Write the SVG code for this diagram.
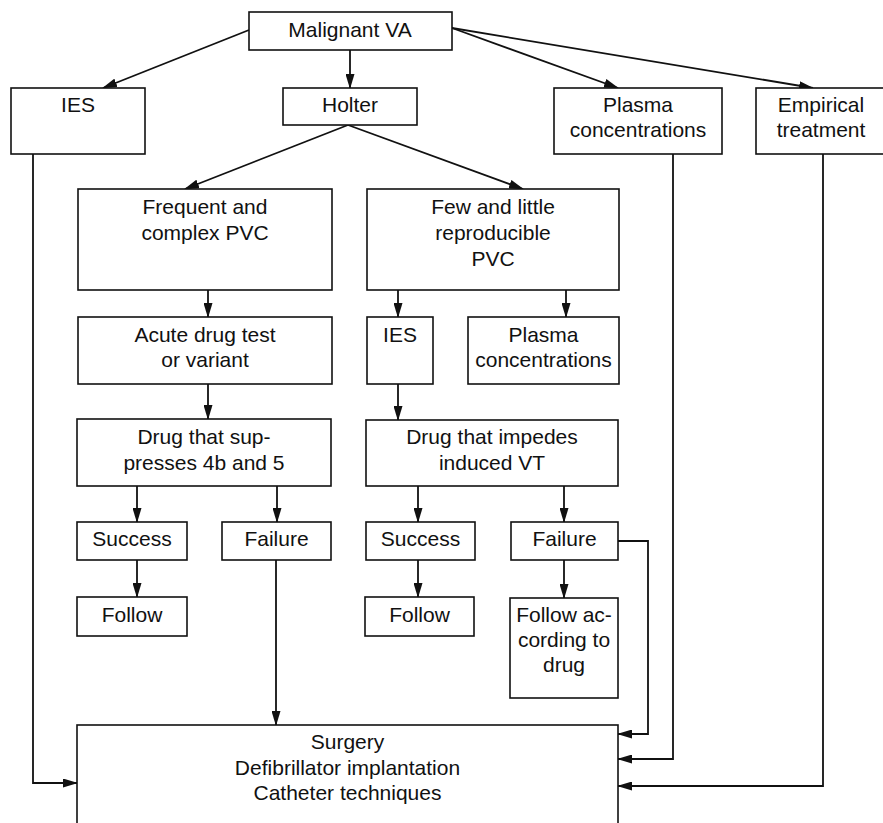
<svg xmlns="http://www.w3.org/2000/svg" width="883" height="823" viewBox="0 0 883 823">
<style>
rect{fill:#fff;stroke:#111;stroke-width:1.6}
text{font-family:"Liberation Sans",Arial,sans-serif;font-size:21px;fill:#111;text-anchor:middle}
.c{fill:none;stroke:#111;stroke-width:1.8}
</style>
<defs>
<marker id="a" markerUnits="userSpaceOnUse" markerWidth="15" markerHeight="9" refX="14" refY="4.5" orient="auto">
<path d="M0,0 L15,4.5 L0,9 z" fill="#111"/>
</marker>
</defs>
<rect x="0" y="0" width="883" height="823" style="stroke:none"/>
<g id="connectors">
<path class="c" d="M249,30 L103,88" marker-end="url(#a)"/>
<path class="c" d="M350,50 L350,88" marker-end="url(#a)"/>
<path class="c" d="M452,28 L618,88" marker-end="url(#a)"/>
<path class="c" d="M452,28 L813,88" marker-end="url(#a)"/>
<path class="c" d="M348,125 L185,189" marker-end="url(#a)"/>
<path class="c" d="M348,125 L523,189" marker-end="url(#a)"/>
<path class="c" d="M208,290 L208,317" marker-end="url(#a)"/>
<path class="c" d="M208,384 L208,419" marker-end="url(#a)"/>
<path class="c" d="M398,290 L398,317" marker-end="url(#a)"/>
<path class="c" d="M566,290 L566,317" marker-end="url(#a)"/>
<path class="c" d="M398,384 L398,420" marker-end="url(#a)"/>
<path class="c" d="M137,486 L137,522" marker-end="url(#a)"/>
<path class="c" d="M277,486 L277,522" marker-end="url(#a)"/>
<path class="c" d="M137,560 L137,597" marker-end="url(#a)"/>
<path class="c" d="M418,486 L418,522" marker-end="url(#a)"/>
<path class="c" d="M564,486 L564,522" marker-end="url(#a)"/>
<path class="c" d="M418,560 L418,597" marker-end="url(#a)"/>
<path class="c" d="M564,560 L564,598" marker-end="url(#a)"/>
<path class="c" d="M276,560 L276,725" marker-end="url(#a)"/>
<path class="c" d="M33,154 L33,783 L77,783" marker-end="url(#a)"/>
<path class="c" d="M618,541 L648,541 L648,734 L618,734" marker-end="url(#a)"/>
<path class="c" d="M673,154 L673,759 L618,759" marker-end="url(#a)"/>
<path class="c" d="M823,154 L823,786 L618,786" marker-end="url(#a)"/>
</g>
<g id="malignant"><rect x="249" y="12" width="203" height="38"/><text x="350" y="37">Malignant VA</text></g>
<g id="ies"><rect x="11" y="88" width="134" height="66"/><text x="78" y="112">IES</text></g>
<g id="holter"><rect x="283" y="88" width="134" height="37"/><text x="350" y="112">Holter</text></g>
<g id="plasma"><rect x="554" y="88" width="168" height="66"/><text x="638" y="112">Plasma</text><text x="638" y="137">concentrations</text></g>
<g id="empirical"><rect x="756" y="88" width="134" height="66"/><text x="821" y="112">Empirical</text><text x="821" y="137">treatment</text></g>
<g id="frequent"><rect x="78" y="189" width="254" height="101"/><text x="205" y="214">Frequent and</text><text x="205" y="240">complex PVC</text></g>
<g id="few"><rect x="367" y="189" width="252" height="101"/><text x="493" y="214">Few and little</text><text x="493" y="240">reproducible</text><text x="493" y="266">PVC</text></g>
<g id="acute"><rect x="78" y="317" width="254" height="67"/><text x="205" y="342">Acute drug test</text><text x="205" y="367">or variant</text></g>
<g id="ies2"><rect x="367" y="317" width="66" height="67"/><text x="400" y="342">IES</text></g>
<g id="plasma2"><rect x="468" y="317" width="151" height="67"/><text x="543.5" y="342">Plasma</text><text x="543.5" y="367">concentrations</text></g>
<g id="drug1"><rect x="77" y="419" width="254" height="67"/><text x="204" y="444">Drug that sup-</text><text x="204" y="470">presses 4b and 5</text></g>
<g id="drug2"><rect x="366" y="420" width="252" height="66"/><text x="492" y="444">Drug that impedes</text><text x="492" y="470">induced VT</text></g>
<g id="success1"><rect x="77" y="522" width="110" height="38"/><text x="132" y="546">Success</text></g>
<g id="failure1"><rect x="222" y="522" width="109" height="38"/><text x="276.5" y="546">Failure</text></g>
<g id="follow1"><rect x="77" y="597" width="110" height="39"/><text x="132" y="622">Follow</text></g>
<g id="success2"><rect x="366" y="522" width="109" height="38"/><text x="420.5" y="546">Success</text></g>
<g id="failure2"><rect x="511" y="522" width="107" height="38"/><text x="564.5" y="546">Failure</text></g>
<g id="follow2"><rect x="365" y="597" width="109" height="39"/><text x="419.5" y="622">Follow</text></g>
<g id="followdrug"><rect x="510" y="598" width="108" height="100"/><text x="564" y="622">Follow ac-</text><text x="564" y="647">cording to</text><text x="564" y="672">drug</text></g>
<g id="surgery"><rect x="77" y="725" width="541" height="110"/><text x="347.5" y="749">Surgery</text><text x="347.5" y="775">Defibrillator implantation</text><text x="347.5" y="800">Catheter techniques</text></g>
</svg>
